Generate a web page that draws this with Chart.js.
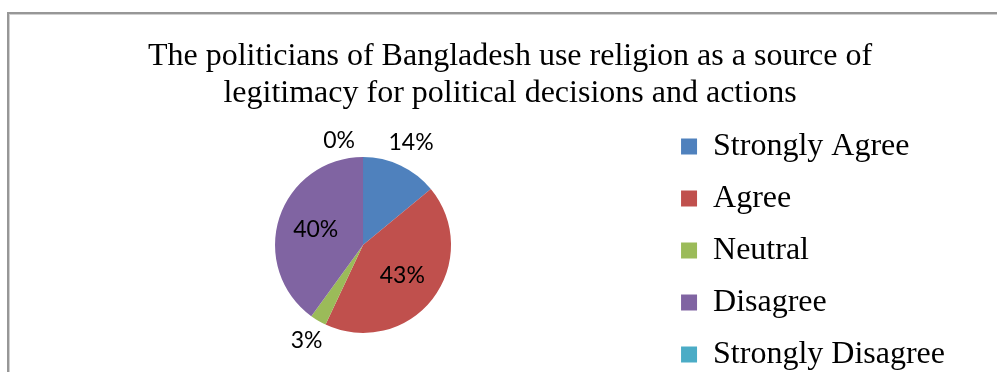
<!DOCTYPE html>
<html>
<head>
<meta charset="utf-8">
<script src="https://cdn.jsdelivr.net/npm/chart.js@4.4.1/dist/chart.umd.min.js"></script>
<style>
  html, body { margin: 0; padding: 0; background: #fff; overflow: hidden; }
  .frame {
    position: absolute;
    left: 7px;
    top: 12px;
    width: 1000px;
    height: 400px;
    border: 2px solid #979797;
    box-shadow: inset 1px 1px 0 #d0d0d0;
  }
</style>
</head>
<body>
<div class="frame">
  <canvas id="religionChart" width="1000" height="400"></canvas>
</div>
<script>
const titleLines = [
    'The politicians of Bangladesh use religion as a source of',
    'legitimacy for political decisions and actions',
];
const answers = ['Strongly Agree', 'Agree', 'Neutral', 'Disagree', 'Strongly Disagree'];
const shares = [14, 43, 3, 40, 0];

const sliceColors = ['#4F81BD', '#C0504D', '#9BBB59', '#8064A2', '#4BACC6'];

// percentage labels: big slices inside, small ones just outside the rim
const sliceLabels = {
    id: 'sliceLabels',
    afterDatasetsDraw(chart) {
        const ctx = chart.ctx;
        const meta = chart.getDatasetMeta(0);
        const total = shares.reduce((a, b) => a + b, 0);
        ctx.save();
        ctx.font = '23px Lato';
        ctx.fillStyle = '#000';
        ctx.textBaseline = 'middle';
        meta.data.forEach((arc, i) => {
            const { x, y, startAngle, endAngle, outerRadius } =
                arc.getProps(['x', 'y', 'startAngle', 'endAngle', 'outerRadius'], true);
            const text = shares[i] + '%';
            const mid = (startAngle + endAngle) / 2;
            const dx = Math.cos(mid);
            const dy = Math.sin(mid);
            const w = ctx.measureText(text).width;
            const h = 16;
            if (shares[i] === 0) {
                ctx.textAlign = 'right';
                ctx.fillText(text, x + dx * outerRadius - 8, y + dy * outerRadius - 8 - h / 2);
            } else if (shares[i] / total >= 0.2) {
                ctx.textAlign = 'center';
                ctx.fillText(text, x + dx * outerRadius * 0.565, y + dy * outerRadius * 0.565);
            } else {
                const d = outerRadius + 8 + Math.abs(dx) * w / 2 + Math.abs(dy) * h / 2;
                ctx.textAlign = 'center';
                ctx.fillText(text, x + dx * d, y + dy * d);
            }
        });
        ctx.restore();
    }
};

const religionData = {
    labels: answers,
    datasets: [{
        data: shares,
        backgroundColor: sliceColors,
        borderWidth: 0,
        radius: 88,
    }],
};

const religionConfig = {
    type: 'pie',
    data: religionData,
    plugins: [sliceLabels],
    options: {
        responsive: false,
        animation: false,
        layout: {
            padding: { left: 56, right: 54, top: 0, bottom: 20 },
        },
        plugins: {
            title: {
                display: true,
                text: titleLines,
                color: '#000',
                font: { family: 'Liberation Serif', size: 32, weight: 'normal', lineHeight: '37px' },
                // let the pie area start under the second line's baseline
                padding: { top: 24, bottom: -16 },
            },
            legend: {
                position: 'right',
                fullSize: false,
                // empty title only pushes the entries down a bit
                title: { display: true, text: '', font: { size: 11, lineHeight: 1 }, padding: 0 },
                labels: {
                    color: '#000',
                    font: { family: 'Liberation Serif', size: 32 },
                    boxWidth: 16,
                    boxHeight: 16,
                    padding: 20,
                },
            },
            tooltip: { enabled: false },
        },
    },
};

Promise.all([
    document.fonts.load('23px Lato'),
    document.fonts.load('32px "Liberation Serif"'),
]).finally(() => {
    const religionChartElem = document.getElementById('religionChart').getContext('2d');
    new Chart(religionChartElem, religionConfig);
});
</script>
</body>
</html>
